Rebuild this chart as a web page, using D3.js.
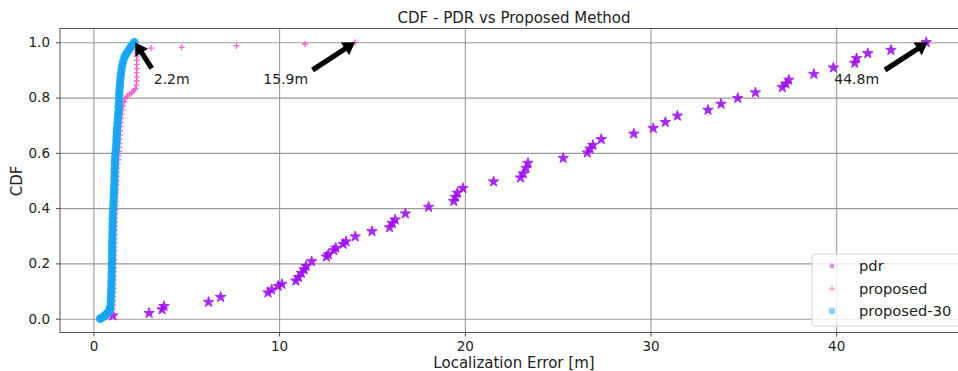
<!DOCTYPE html>
<html>
<head>
<meta charset="utf-8">
<script src="https://cdn.jsdelivr.net/npm/d3@7"></script>
<style>
  body { margin: 0; background: #fff; }
  svg { display: block; font-family: "DejaVu Sans", sans-serif; }
</style>
</head>
<body>
<script>
// values: [error in m, CDF]
const pdr = [
  [1.05, 0.011], [3.0, 0.02], [3.7, 0.033], [3.8, 0.045], [6.2, 0.06], [6.85, 0.078],
  [9.4, 0.094], [9.6, 0.105], [9.95, 0.118], [10.15, 0.125], [10.9, 0.137], [11.05, 0.15],
  [11.2, 0.165], [11.35, 0.178], [11.45, 0.19], [11.75, 0.207], [12.55, 0.224], [12.65, 0.232],
  [12.95, 0.247], [13.05, 0.256], [13.45, 0.27], [13.6, 0.279], [14.1, 0.297], [15.0, 0.316],
  [15.95, 0.33], [16.1, 0.345], [16.25, 0.358], [16.8, 0.38], [18.05, 0.404], [19.4, 0.425],
  [19.5, 0.44], [19.6, 0.455], [19.9, 0.472], [21.55, 0.496], [23.0, 0.51], [23.15, 0.525],
  [23.3, 0.545], [23.4, 0.563], [25.3, 0.581], [26.6, 0.6], [26.75, 0.615], [26.9, 0.628],
  [27.35, 0.649], [29.1, 0.669], [30.15, 0.689], [30.8, 0.711], [31.45, 0.734], [33.1, 0.755],
  [33.8, 0.777], [34.7, 0.798], [35.65, 0.818], [37.1, 0.837], [37.3, 0.85], [37.45, 0.864],
  [38.8, 0.885], [39.85, 0.908], [41.0, 0.925], [41.1, 0.942], [41.7, 0.96], [42.95, 0.972],
  [44.85, 1.0]
];

const proposed = [
  [0.6, 0.004], [0.9, 0.012], [1.0, 0.02], [1.03, 0.035], [1.05, 0.05], [1.06, 0.065],
  [1.07, 0.08], [1.08, 0.095], [1.08, 0.11], [1.09, 0.125], [1.09, 0.14], [1.1, 0.155],
  [1.1, 0.17], [1.11, 0.185], [1.11, 0.2], [1.12, 0.215], [1.12, 0.23], [1.13, 0.245],
  [1.13, 0.26], [1.14, 0.275], [1.14, 0.29], [1.15, 0.305], [1.15, 0.32], [1.16, 0.335],
  [1.16, 0.35], [1.17, 0.365], [1.17, 0.38], [1.18, 0.395], [1.18, 0.41], [1.19, 0.425],
  [1.2, 0.44], [1.21, 0.455], [1.22, 0.47], [1.23, 0.485], [1.24, 0.5], [1.25, 0.515],
  [1.26, 0.53], [1.28, 0.545], [1.3, 0.56], [1.32, 0.575], [1.35, 0.59], [1.37, 0.605],
  [1.39, 0.62], [1.41, 0.635], [1.42, 0.65], [1.43, 0.665], [1.44, 0.68], [1.46, 0.695],
  [1.48, 0.71], [1.5, 0.725], [1.53, 0.74], [1.56, 0.755], [1.6, 0.77], [1.65, 0.785],
  [1.71, 0.797], [1.82, 0.805], [1.95, 0.812], [2.07, 0.818], [2.17, 0.825], [2.26, 0.832],
  [2.31, 0.845], [2.33, 0.86], [2.33, 0.875], [2.33, 0.89], [2.33, 0.905], [2.33, 0.92],
  [2.33, 0.935], [2.33, 0.95], [2.33, 0.962], [2.33, 0.972], [3.1, 0.979], [4.75, 0.982],
  [7.7, 0.987], [11.4, 0.993], [14.1, 1.0]
];

const proposed30 = [
  [0.36, 0.0], [0.45, 0.004], [0.55, 0.008], [0.63, 0.012], [0.7, 0.016], [0.76, 0.02],
  [0.82, 0.025], [0.87, 0.03], [0.9, 0.036], [0.92, 0.045], [0.93, 0.06], [0.94, 0.075],
  [0.95, 0.09], [0.96, 0.105], [0.97, 0.12], [0.97, 0.135], [0.98, 0.15], [0.98, 0.165],
  [0.99, 0.18], [0.99, 0.195], [1.0, 0.21], [1.0, 0.225], [1.01, 0.24], [1.01, 0.255],
  [1.01, 0.27], [1.02, 0.285], [1.02, 0.3], [1.03, 0.315], [1.03, 0.33], [1.04, 0.345],
  [1.04, 0.36], [1.05, 0.375], [1.06, 0.39], [1.07, 0.405], [1.08, 0.42], [1.09, 0.435],
  [1.1, 0.45], [1.11, 0.465], [1.12, 0.48], [1.13, 0.495], [1.13, 0.51], [1.14, 0.525],
  [1.14, 0.54], [1.15, 0.555], [1.16, 0.57], [1.17, 0.585], [1.19, 0.6], [1.21, 0.615],
  [1.23, 0.63], [1.24, 0.645], [1.25, 0.66], [1.26, 0.675], [1.27, 0.69], [1.29, 0.705],
  [1.31, 0.72], [1.33, 0.735], [1.35, 0.75], [1.36, 0.765], [1.37, 0.78], [1.38, 0.795],
  [1.39, 0.81], [1.4, 0.825], [1.42, 0.84], [1.44, 0.855], [1.46, 0.87], [1.48, 0.885],
  [1.51, 0.9], [1.55, 0.915], [1.6, 0.93], [1.67, 0.945], [1.74, 0.955], [1.83, 0.965],
  [1.93, 0.975], [2.03, 0.985], [2.12, 0.992], [2.2, 1.0]
];

const xTicks = [0, 10, 20, 30, 40];
const yTicks = [0.0, 0.2, 0.4, 0.6, 0.8, 1.0];

// annotations: label, text anchor, arrow tail, arrow tip (data coords)
const notes = [
  { label: '2.2m', text: [3.25, 0.849], tail: [3.14, 0.906], tip: [2.25, 0.999] },
  { label: '15.9m', text: [9.15, 0.849], tail: [11.8, 0.9], tip: [14.09, 1.0] },
  { label: '44.8m', text: [39.9, 0.849], tail: [42.63, 0.9], tip: [44.93, 1.0] }
];

const series = [
  { name: 'pdr', color: '#9d00ff', kind: 'star' },
  { name: 'proposed', color: '#ff38c8', kind: 'plus' },
  { name: 'proposed-30', color: '#12a5f4', kind: 'circle' }
];

const W = 958, H = 371;
const plotL = 60, plotR = 968, plotT = 28.5, plotB = 332.5;

const svg = d3.select('body').append('svg')
  .attr('width', W)
  .attr('height', H);

const x = d3.scaleLinear().domain([-1.8, 47.1]).range([plotL, plotR]);
const y = d3.scaleLinear().domain([-0.05, 1.05]).range([plotB, plotT]);

// grid
svg.append('g')
  .attr('transform', 'translate(0,' + plotB + ')')
  .call(d3.axisBottom(x).tickValues(xTicks).tickSize(-(plotB - plotT)).tickFormat(''))
  .call(g => g.select('.domain').remove())
  .call(g => g.selectAll('line').attr('stroke', '#9a9a9a').attr('stroke-width', 1.1));
svg.append('g')
  .attr('transform', 'translate(' + plotL + ',0)')
  .call(d3.axisLeft(y).tickValues(yTicks).tickSize(-(plotR - plotL)).tickFormat(''))
  .call(g => g.select('.domain').remove())
  .call(g => g.selectAll('line').attr('stroke', '#9a9a9a').attr('stroke-width', 1.1));

// axes with ticks and labels
const xAxis = svg.append('g')
  .attr('transform', 'translate(0,' + plotB + ')')
  .call(d3.axisBottom(x).tickValues(xTicks).tickSize(4).tickPadding(5).tickFormat(d3.format('d')));
const yAxis = svg.append('g')
  .attr('transform', 'translate(' + plotL + ',0)')
  .call(d3.axisLeft(y).tickValues(yTicks).tickSize(4).tickPadding(6).tickFormat(d3.format('.1f')));
[xAxis, yAxis].forEach(g => {
  g.select('.domain').remove();
  g.selectAll('line').attr('stroke', '#444');
  g.selectAll('text').attr('fill', '#222').style('font-size', '13.5px')
    .style('font-family', '"DejaVu Sans", sans-serif');
});

// frame
svg.append('rect')
  .attr('x', plotL).attr('y', plotT)
  .attr('width', plotR - plotL).attr('height', plotB - plotT)
  .attr('fill', 'none').attr('stroke', '#555').attr('stroke-width', 1);

const star = d3.symbol().type(d3.symbolStar).size(34);

// pdr stars
svg.append('g').selectAll('path')
  .data(pdr)
  .join('path')
  .attr('d', star)
  .attr('transform', d => 'translate(' + x(d[0]) + ',' + y(d[1]) + ')')
  .attr('fill', series[0].color)
  .attr('stroke', series[0].color)
  .attr('stroke-width', 1)
  .attr('opacity', 0.85);

// proposed pluses
svg.append('g').selectAll('path')
  .data(proposed)
  .join('path')
  .attr('d', 'M-3,0H3M0,-3V3')
  .attr('transform', d => 'translate(' + x(d[0]) + ',' + y(d[1]) + ')')
  .attr('stroke', series[1].color)
  .attr('stroke-width', 1.3)
  .attr('opacity', 0.8);

// proposed-30 circles
svg.append('g').selectAll('circle')
  .data(proposed30)
  .join('circle')
  .attr('cx', d => x(d[0]))
  .attr('cy', d => y(d[1]))
  .attr('r', 4.2)
  .attr('fill', series[2].color)
  .attr('opacity', 0.9);

// arrows
function arrowPath(t, h) {
  const dx = h[0] - t[0], dy = h[1] - t[1];
  const L = Math.hypot(dx, dy);
  const ux = dx / L, uy = dy / L, nx = -uy, ny = ux;
  const hl = 12, hw = 7.5, w = 2.6;
  const bx = h[0] - ux * hl, by = h[1] - uy * hl;
  const p = [
    [t[0] + nx * w, t[1] + ny * w],
    [bx + nx * w, by + ny * w],
    [bx + nx * hw, by + ny * hw],
    h,
    [bx - nx * hw, by - ny * hw],
    [bx - nx * w, by - ny * w],
    [t[0] - nx * w, t[1] - ny * w]
  ];
  return 'M' + p.map(q => q.join(',')).join('L') + 'Z';
}

const ann = svg.append('g');
notes.forEach(n => {
  ann.append('path')
    .attr('d', arrowPath([x(n.tail[0]), y(n.tail[1])], [x(n.tip[0]), y(n.tip[1])]))
    .attr('fill', '#000');
  ann.append('text')
    .attr('x', x(n.text[0]))
    .attr('y', y(n.text[1]))
    .attr('fill', '#222')
    .style('font-size', '14px')
    .text(n.label);
});

// titles
svg.append('text')
  .attr('x', 514).attr('y', 23)
  .attr('text-anchor', 'middle')
  .attr('fill', '#222')
  .style('font-size', '15px')
  .text('CDF - PDR vs Proposed Method');
svg.append('text')
  .attr('x', 514).attr('y', 368)
  .attr('text-anchor', 'middle')
  .attr('fill', '#222')
  .style('font-size', '15px')
  .text('Localization Error [m]');
svg.append('text')
  .attr('transform', 'translate(21.5,181) rotate(-90)')
  .attr('text-anchor', 'middle')
  .attr('fill', '#222')
  .style('font-size', '15px')
  .text('CDF');

// legend
const leg = svg.append('g').attr('transform', 'translate(812,254)');
leg.append('rect')
  .attr('width', 152).attr('height', 72).attr('rx', 3)
  .attr('fill', '#fff').attr('fill-opacity', 0.8)
  .attr('stroke', '#d4d4d4');
series.forEach((s, i) => {
  const row = leg.append('g').attr('transform', 'translate(0,' + (12 + i * 22.5) + ')');
  const mk = row.append('g').attr('transform', 'translate(20,0)').attr('opacity', 0.5);
  if (s.kind === 'star') {
    mk.append('path').attr('d', d3.symbol().type(d3.symbolStar).size(16)).attr('fill', s.color);
  } else if (s.kind === 'plus') {
    mk.append('path').attr('d', 'M-3,0H3M0,-3V3').attr('stroke', s.color).attr('stroke-width', 1.3);
  } else {
    mk.append('circle').attr('r', 3.3).attr('fill', s.color);
  }
  row.append('text')
    .attr('x', 47).attr('y', 0)
    .attr('dy', '0.35em')
    .attr('fill', '#222')
    .style('font-size', '14.7px')
    .text(s.name);
});
</script>
</body>
</html>
